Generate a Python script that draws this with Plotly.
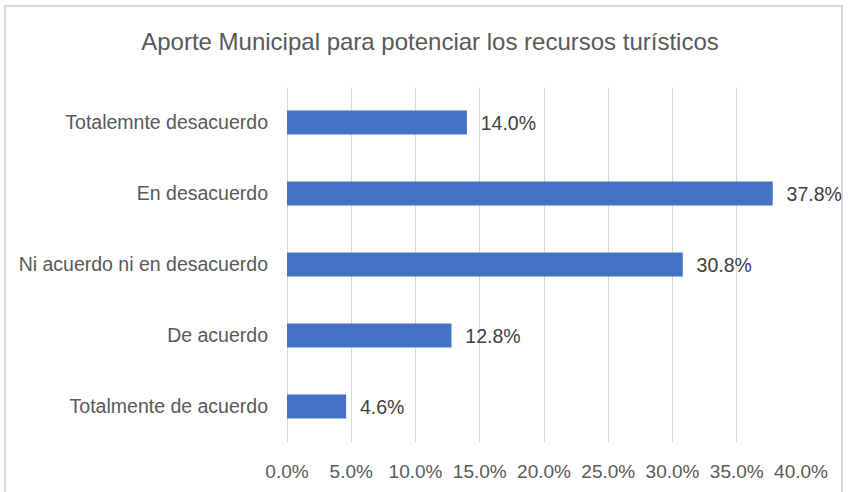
import plotly.graph_objects as go

categories = [
    "Totalemnte desacuerdo",
    "En desacuerdo",
    "Ni acuerdo ni en desacuerdo",
    "De acuerdo",
    "Totalmente de acuerdo",
]
values = [14.0, 37.8, 30.8, 12.8, 4.6]
tick_vals = [0, 5, 10, 15, 20, 25, 30, 35, 40]
tick_text = ["0.0%", "5.0%", "10.0%", "15.0%", "20.0%", "25.0%", "30.0%", "35.0%", "40.0%"]
title_text = "Aporte Municipal para potenciar los recursos turísticos"

FONT = "Liberation Sans, Arial, sans-serif"

fig = go.Figure(
    go.Bar(
        x=values,
        y=categories,
        orientation="h",
        marker=dict(color="#4472C4", line=dict(width=0)),
        texttemplate="\u00a0\u00a0%{x:.1f}%",
        textposition="outside",
        cliponaxis=False,
        textfont=dict(family=FONT, size=19.5, color="#404040"),
        hoverinfo="skip",
    )
)

L, R, T, B = 287, 50, 87, 50
W, H = 851, 492
pw, ph = W - L - R, H - T - B

fig.update_layout(
    width=W,
    height=H,
    margin=dict(l=L, r=R, t=T, b=B, pad=0, autoexpand=False),
    paper_bgcolor="white",
    plot_bgcolor="white",
    bargap=0.66,
    showlegend=False,
    font=dict(family=FONT, color="#595959"),
    title=dict(
        text=title_text,
        x=(430) / W,
        xanchor="center",
        y=1 - 42 / H,
        yanchor="middle",
        font=dict(family=FONT, size=24, color="#595959"),
    ),
    xaxis=dict(
        range=[0, 40],
        tickvals=tick_vals,
        ticktext=tick_text,
        showgrid=True,
        gridcolor="#D9D9D9",
        gridwidth=1,
        zeroline=True,
        zerolinecolor="#D9D9D9",
        zerolinewidth=1,
        showline=False,
        ticks="",
        automargin=False,
        ticklabelstandoff=16,
        tickfont=dict(family=FONT, size=19, color="#595959"),
        fixedrange=True,
    ),
    yaxis=dict(
        categoryorder="array",
        categoryarray=categories[::-1],
        showgrid=False,
        zeroline=False,
        showline=False,
        ticks="",
        automargin=False,
        ticklabelstandoff=18,
        tickfont=dict(family=FONT, size=19.5, color="#595959"),
        fixedrange=True,
    ),
    shapes=[
        dict(
            type="rect",
            xref="paper",
            yref="paper",
            x0=(5 - L) / pw,
            x1=(842 - L) / pw,
            y0=-0.3,
            y1=(H - B - 6) / ph,
            line=dict(color="#D9D9D9", width=2),
            fillcolor="rgba(0,0,0,0)",
            layer="below",
        )
    ],
)

fig.write_html(
    "out.html",
    config={"displayModeBar": False},
    post_script="document.body.style.margin='0px';document.body.style.overflow='hidden';",
)
